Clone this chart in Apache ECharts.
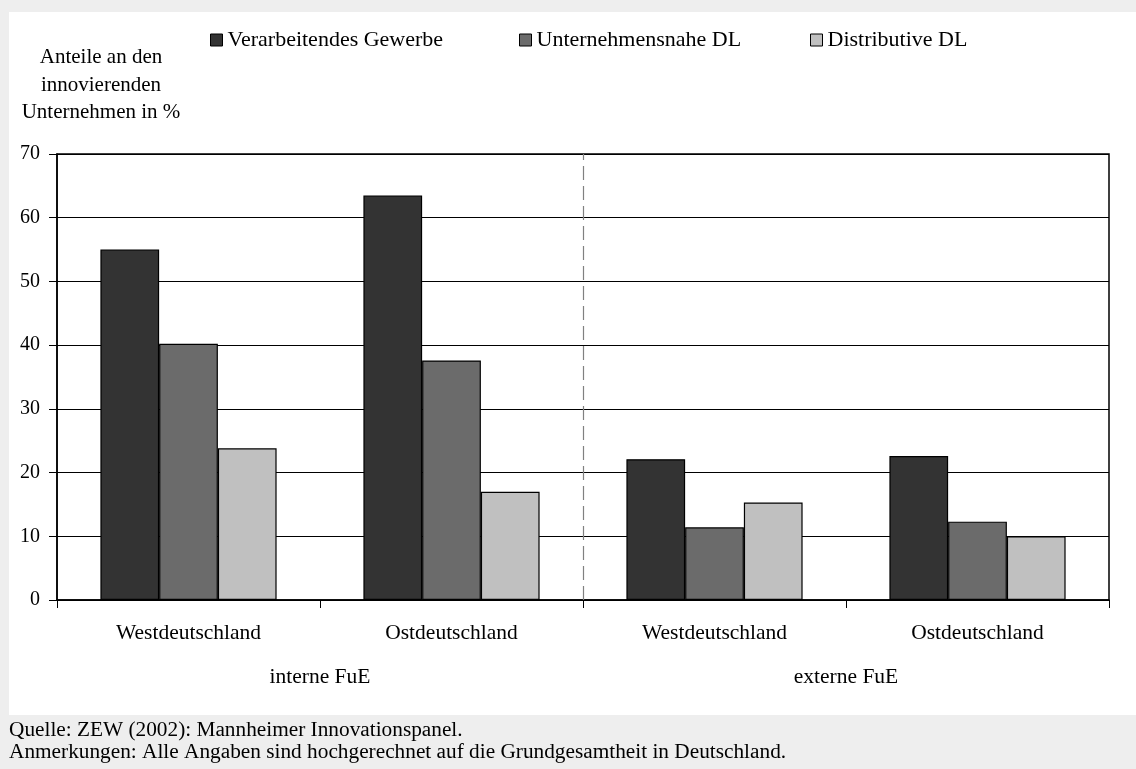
<!DOCTYPE html>
<html>
<head>
<meta charset="utf-8">
<script src="https://cdn.jsdelivr.net/npm/echarts@6/dist/echarts.min.js"></script>
<style>
  html, body { margin: 0; padding: 0; background: #eeeeee; }
  #chart { width: 1136px; height: 769px; }
</style>
</head>
<body>
<div id="chart"></div>
<script>
// Daten
var categories = ['Westdeutschland', 'Ostdeutschland', 'Westdeutschland', 'Ostdeutschland'];
var groups = ['interne FuE', 'externe FuE'];
var seriesNames = ['Verarbeitendes Gewerbe', 'Unternehmensnahe DL', 'Distributive DL'];
var verarbeitend = [55.0, 63.5, 22.1, 22.6];
var unternehmensnah = [40.2, 37.6, 11.4, 12.3];
var distributiv = [23.8, 17.0, 15.3, 10.0];
var separatorAt = [2]; // Trennlinie zwischen interner und externer FuE
var yTicks = [0, 10, 20, 30, 40, 50, 60, 70];

var FONT = 'Liberation Serif';
var colors = ['#333333', '#6b6b6b', '#c0c0c0'];
var values = [verarbeitend, unternehmensnah, distributiv];
var legendLeft = [210, 519, 810];

var chart = echarts.init(document.getElementById('chart'));

var series = seriesNames.map(function (name, i) {
  return {
    name: name,
    type: 'bar',
    xAxisIndex: 0,
    barGap: '0%',
    barCategoryGap: '33%',
    itemStyle: { color: colors[i], borderColor: '#000', borderWidth: 1.2 },
    emphasis: { disabled: true },
    data: values[i]
  };
});

// Hilfsserie nur für die gestrichelte Trennlinie
series.push({
  type: 'line',
  xAxisIndex: 2,
  data: [],
  silent: true,
  markLine: {
    symbol: 'none',
    silent: true,
    label: { show: false },
    lineStyle: { color: '#808080', type: [14, 6], width: 1.2 },
    data: separatorAt.map(function (v) { return { xAxis: v }; })
  }
});

// je Reihe eine eigene Legende, damit die Abstände stimmen
var legends = seriesNames.map(function (name, i) {
  return {
    left: legendLeft[i], top: 29,
    padding: 0,
    itemWidth: 12, itemHeight: 12,
    icon: 'rect',
    data: [name],
    selectedMode: false,
    textStyle: { fontFamily: FONT, fontSize: 22, color: '#000' },
    itemStyle: { borderColor: '#000', borderWidth: 1 }
  };
});

var option = {
  backgroundColor: '#eeeeee',
  animation: false,
  textStyle: { fontFamily: FONT },
  graphic: [
    {
      type: 'rect', z: -10,
      shape: { x: 9, y: 12, width: 1127, height: 703 },
      style: { fill: '#ffffff' }
    },
    {
      type: 'text', x: 101, y: 44,
      style: {
        text: 'Anteile an den\ninnovierenden\nUnternehmen in %',
        font: '21px "Liberation Serif"', fill: '#000',
        textAlign: 'center', textVerticalAlign: 'top', lineHeight: 27.5
      }
    },
    {
      type: 'text', x: 9, y: 719,
      style: {
        text: 'Quelle: ZEW (2002): Mannheimer Innovationspanel.\nAnmerkungen: Alle Angaben sind hochgerechnet auf die Grundgesamtheit in Deutschland.',
        font: '21.3px "Liberation Serif"', fill: '#000',
        textVerticalAlign: 'top', lineHeight: 22
      }
    }
  ],
  legend: legends,
  grid: {
    left: 57, right: 27, top: 154, bottom: 169,
    show: true, borderColor: '#000', borderWidth: 1.5, backgroundColor: 'transparent'
  },
  xAxis: [
    {
      type: 'category',
      data: categories,
      axisLine: { lineStyle: { color: '#000', width: 1.5 } },
      axisTick: { show: true, length: 8, lineStyle: { color: '#000' } },
      axisLabel: { color: '#000', fontSize: 21.5, fontFamily: FONT, margin: 22 }
    },
    {
      type: 'category',
      data: groups,
      position: 'bottom',
      offset: 44,
      axisLine: { show: false },
      axisTick: { show: false },
      axisLabel: { color: '#000', fontSize: 21.5, fontFamily: FONT, margin: 22 }
    },
    {
      type: 'value',
      min: 0, max: categories.length,
      show: false
    }
  ],
  yAxis: {
    type: 'value',
    min: yTicks[0], max: yTicks[yTicks.length - 1], interval: 10,
    axisLine: { show: true, lineStyle: { color: '#000', width: 1.5 } },
    axisTick: { show: true, length: 8, lineStyle: { color: '#000' } },
    axisLabel: { color: '#000', fontSize: 20, fontFamily: FONT, margin: 17 },
    splitLine: { show: true, lineStyle: { color: '#000', width: 1 } }
  },
  series: series
};

chart.setOption(option);
</script>
</body>
</html>
